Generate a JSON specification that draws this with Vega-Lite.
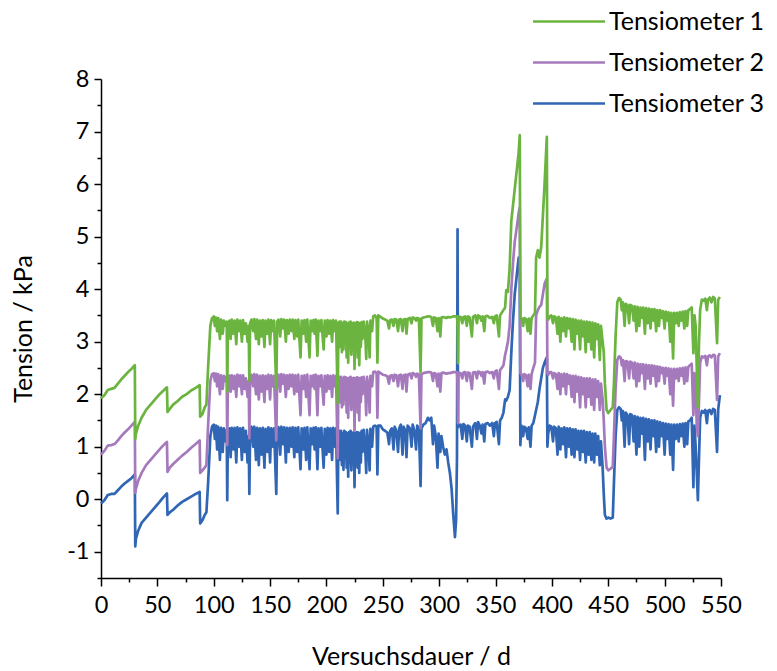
{
  "$schema": "https://vega.github.io/schema/vega-lite/v6.json",
  "width": 620,
  "height": 499,
  "autosize": {"type": "none"},
  "padding": {"left": 101, "top": 79, "right": 56, "bottom": 93},
  "background": "white",
  "config": {"view": {"stroke": null}, "font": "Lato"},
  "data": {"values": [
    {"d":0,"T1":1.92,"T2":0.85,"T3":-0.08},
    {"d":3,"T1":1.98,"T2":0.92,"T3":-0.02},
    {"d":6,"T1":2.08,"T2":1.02,"T3":0.08},
    {"d":9,"T1":2.1,"T2":1.03,"T3":0.1},
    {"d":12,"T1":2.12,"T2":1.05,"T3":0.1},
    {"d":15,"T1":2.2,"T2":1.12,"T3":0.17},
    {"d":18,"T1":2.28,"T2":1.2,"T3":0.24},
    {"d":21,"T1":2.35,"T2":1.27,"T3":0.3},
    {"d":24,"T1":2.42,"T2":1.33,"T3":0.35},
    {"d":27,"T1":2.48,"T2":1.4,"T3":0.4},
    {"d":30,"T1":2.55,"T2":1.47,"T3":0.47},
    {"d":30.4,"T1":1.15,"T2":0.12,"T3":-0.9},
    {"d":31,"T1":1.25,"T2":0.2,"T3":-0.75},
    {"d":33,"T1":1.4,"T2":0.35,"T3":-0.6},
    {"d":36,"T1":1.55,"T2":0.5,"T3":-0.45},
    {"d":40,"T1":1.7,"T2":0.65,"T3":-0.35},
    {"d":44,"T1":1.8,"T2":0.75,"T3":-0.25},
    {"d":48,"T1":1.9,"T2":0.85,"T3":-0.15},
    {"d":52,"T1":2.0,"T2":0.95,"T3":-0.05},
    {"d":55,"T1":2.06,"T2":1.02,"T3":0.03},
    {"d":58.5,"T1":2.13,"T2":1.09,"T3":0.11},
    {"d":59,"T1":1.66,"T2":0.52,"T3":-0.3},
    {"d":61,"T1":1.72,"T2":0.6,"T3":-0.25},
    {"d":64,"T1":1.8,"T2":0.67,"T3":-0.2},
    {"d":68,"T1":1.87,"T2":0.75,"T3":-0.12},
    {"d":72,"T1":1.95,"T2":0.83,"T3":-0.05},
    {"d":76,"T1":2.0,"T2":0.9,"T3":0.0},
    {"d":80,"T1":2.07,"T2":0.98,"T3":0.05},
    {"d":84,"T1":2.12,"T2":1.05,"T3":0.1},
    {"d":87.5,"T1":2.17,"T2":1.12,"T3":0.14},
    {"d":88,"T1":1.57,"T2":0.5,"T3":-0.46},
    {"d":90,"T1":1.62,"T2":0.55,"T3":-0.4},
    {"d":92,"T1":1.75,"T2":0.6,"T3":-0.3},
    {"d":93.5,"T1":1.8,"T2":0.65,"T3":-0.25},
    {"d":95,"T1":2.5,"T2":1.4,"T3":0.3},
    {"d":97,"T1":3.3,"T2":2.25,"T3":1.2},
    {"d":98.5,"T1":3.45,"T2":2.38,"T3":1.38},
    {"d":99,"T1":3.45,"T2":2.38,"T3":1.4},
    {"d":100,"T1":3.48,"T2":2.4,"T3":1.42},
    {"d":101,"T1":3.3,"T2":2.25,"T3":1.15},
    {"d":102,"T1":3.46,"T2":2.39,"T3":1.4},
    {"d":103,"T1":3.2,"T2":2.15,"T3":0.95},
    {"d":104,"T1":3.45,"T2":2.38,"T3":1.38},
    {"d":105.5,"T1":3.05,"T2":2.0,"T3":0.75},
    {"d":106.5,"T1":3.42,"T2":2.36,"T3":1.36},
    {"d":108,"T1":3.15,"T2":2.1,"T3":0.9},
    {"d":109,"T1":3.4,"T2":2.35,"T3":1.35},
    {"d":110.5,"T1":3.3,"T2":2.25,"T3":1.1},
    {"d":111.5,"T1":3.38,"T2":2.33,"T3":1.32},
    {"d":112,"T1":2.05,"T2":1.03,"T3":-0.02},
    {"d":112.6,"T1":3.35,"T2":2.3,"T3":1.3},
    {"d":114,"T1":3.4,"T2":2.35,"T3":1.35},
    {"d":115,"T1":3.05,"T2":2.05,"T3":0.8},
    {"d":116,"T1":3.42,"T2":2.36,"T3":1.36},
    {"d":117.5,"T1":3.15,"T2":2.1,"T3":0.95},
    {"d":118.5,"T1":3.4,"T2":2.35,"T3":1.36},
    {"d":120,"T1":2.95,"T2":1.95,"T3":0.7},
    {"d":121,"T1":3.42,"T2":2.37,"T3":1.37},
    {"d":122.5,"T1":3.2,"T2":2.15,"T3":1.0},
    {"d":123.5,"T1":3.4,"T2":2.36,"T3":1.35},
    {"d":125,"T1":3.0,"T2":2.0,"T3":0.75},
    {"d":126,"T1":3.41,"T2":2.36,"T3":1.36},
    {"d":127.5,"T1":3.15,"T2":2.1,"T3":0.9},
    {"d":128.5,"T1":3.35,"T2":2.3,"T3":1.3},
    {"d":130,"T1":3.0,"T2":1.95,"T3":0.7},
    {"d":131,"T1":3.3,"T2":2.25,"T3":1.2},
    {"d":131.6,"T1":2.25,"T2":1.16,"T3":0.1},
    {"d":132.3,"T1":3.35,"T2":2.3,"T3":1.3},
    {"d":133.5,"T1":3.42,"T2":2.37,"T3":1.38},
    {"d":135,"T1":3.2,"T2":2.15,"T3":1.0},
    {"d":136,"T1":3.43,"T2":2.38,"T3":1.38},
    {"d":137.5,"T1":3.05,"T2":2.0,"T3":0.75},
    {"d":138.5,"T1":3.42,"T2":2.37,"T3":1.36},
    {"d":140,"T1":2.95,"T2":1.9,"T3":0.65},
    {"d":141,"T1":3.4,"T2":2.35,"T3":1.35},
    {"d":142.5,"T1":3.1,"T2":2.05,"T3":0.85},
    {"d":143.5,"T1":3.41,"T2":2.36,"T3":1.36},
    {"d":145,"T1":2.9,"T2":1.85,"T3":0.6},
    {"d":146,"T1":3.4,"T2":2.35,"T3":1.34},
    {"d":147.5,"T1":3.15,"T2":2.1,"T3":0.9},
    {"d":148.5,"T1":3.42,"T2":2.37,"T3":1.37},
    {"d":150,"T1":2.95,"T2":1.9,"T3":0.7},
    {"d":151,"T1":3.41,"T2":2.36,"T3":1.35},
    {"d":152.5,"T1":3.2,"T2":2.15,"T3":1.0},
    {"d":153.5,"T1":3.4,"T2":2.35,"T3":1.35},
    {"d":155.5,"T1":2.1,"T2":1.12,"T3":0.1},
    {"d":156.3,"T1":3.38,"T2":2.33,"T3":1.32},
    {"d":157.5,"T1":3.42,"T2":2.37,"T3":1.37},
    {"d":159,"T1":3.1,"T2":2.05,"T3":0.85},
    {"d":160,"T1":3.43,"T2":2.38,"T3":1.38},
    {"d":161.5,"T1":3.25,"T2":2.2,"T3":1.05},
    {"d":162.5,"T1":3.42,"T2":2.37,"T3":1.37},
    {"d":164,"T1":3.0,"T2":1.95,"T3":0.7},
    {"d":165,"T1":3.41,"T2":2.36,"T3":1.36},
    {"d":166.5,"T1":3.15,"T2":2.1,"T3":0.9},
    {"d":167.5,"T1":3.42,"T2":2.37,"T3":1.36},
    {"d":169,"T1":3.2,"T2":2.15,"T3":1.0},
    {"d":170,"T1":3.42,"T2":2.37,"T3":1.37},
    {"d":171.5,"T1":3.05,"T2":2.0,"T3":0.8},
    {"d":172.5,"T1":3.41,"T2":2.36,"T3":1.36},
    {"d":174,"T1":3.1,"T2":2.05,"T3":0.9},
    {"d":175,"T1":3.42,"T2":2.37,"T3":1.37},
    {"d":177,"T1":2.7,"T2":1.6,"T3":0.57},
    {"d":178,"T1":3.4,"T2":2.35,"T3":1.35},
    {"d":179.5,"T1":3.15,"T2":2.1,"T3":0.95},
    {"d":180.5,"T1":3.41,"T2":2.36,"T3":1.36},
    {"d":182,"T1":3.0,"T2":1.95,"T3":0.75},
    {"d":183,"T1":3.42,"T2":2.37,"T3":1.37},
    {"d":185,"T1":2.7,"T2":1.6,"T3":0.57},
    {"d":186,"T1":3.4,"T2":2.35,"T3":1.35},
    {"d":187.5,"T1":3.2,"T2":2.15,"T3":1.05},
    {"d":188.5,"T1":3.41,"T2":2.36,"T3":1.36},
    {"d":189.5,"T1":3.15,"T2":2.1,"T3":0.95},
    {"d":190.5,"T1":3.42,"T2":2.37,"T3":1.37},
    {"d":192,"T1":2.73,"T2":1.6,"T3":0.57},
    {"d":193,"T1":3.4,"T2":2.35,"T3":1.35},
    {"d":194.5,"T1":3.2,"T2":2.15,"T3":1.0},
    {"d":195.5,"T1":3.41,"T2":2.36,"T3":1.36},
    {"d":197.5,"T1":2.85,"T2":1.8,"T3":0.6},
    {"d":198.5,"T1":3.4,"T2":2.35,"T3":1.34},
    {"d":200,"T1":3.1,"T2":2.05,"T3":0.85},
    {"d":201,"T1":3.41,"T2":2.36,"T3":1.36},
    {"d":202.5,"T1":3.15,"T2":2.1,"T3":0.9},
    {"d":203.5,"T1":3.4,"T2":2.35,"T3":1.35},
    {"d":205,"T1":3.0,"T2":1.95,"T3":0.75},
    {"d":206,"T1":3.41,"T2":2.36,"T3":1.36},
    {"d":207.5,"T1":3.2,"T2":2.15,"T3":1.0},
    {"d":208.5,"T1":3.4,"T2":2.35,"T3":1.35},
    {"d":210,"T1":1.83,"T2":0.78,"T3":-0.27},
    {"d":210.6,"T1":3.35,"T2":2.3,"T3":1.3},
    {"d":211.5,"T1":3.38,"T2":2.33,"T3":1.3},
    {"d":212.3,"T1":2.9,"T2":1.85,"T3":0.75},
    {"d":213,"T1":3.38,"T2":2.33,"T3":1.3},
    {"d":213.7,"T1":2.8,"T2":1.75,"T3":0.65},
    {"d":214.4,"T1":3.35,"T2":2.3,"T3":1.25},
    {"d":215.1,"T1":2.85,"T2":1.8,"T3":0.56},
    {"d":215.8,"T1":3.38,"T2":2.33,"T3":1.3},
    {"d":216.5,"T1":3.0,"T2":1.9,"T3":0.8},
    {"d":217.2,"T1":3.37,"T2":2.32,"T3":1.28},
    {"d":217.9,"T1":2.7,"T2":1.65,"T3":0.6},
    {"d":218.6,"T1":3.35,"T2":2.3,"T3":1.25},
    {"d":219.3,"T1":2.6,"T2":1.55,"T3":0.43},
    {"d":220,"T1":3.36,"T2":2.31,"T3":1.28},
    {"d":220.7,"T1":2.9,"T2":1.85,"T3":0.7},
    {"d":221.4,"T1":3.38,"T2":2.33,"T3":1.3},
    {"d":222.1,"T1":2.75,"T2":1.7,"T3":0.55},
    {"d":222.8,"T1":3.35,"T2":2.3,"T3":1.26},
    {"d":223.5,"T1":2.95,"T2":1.9,"T3":0.75},
    {"d":224.2,"T1":3.36,"T2":2.31,"T3":1.28},
    {"d":224.9,"T1":2.48,"T2":1.3,"T3":0.23},
    {"d":225.6,"T1":3.35,"T2":2.3,"T3":1.25},
    {"d":226.3,"T1":2.85,"T2":1.8,"T3":0.65},
    {"d":227,"T1":3.37,"T2":2.32,"T3":1.28},
    {"d":227.7,"T1":2.7,"T2":1.65,"T3":0.6},
    {"d":228.4,"T1":3.36,"T2":2.31,"T3":1.27},
    {"d":229.1,"T1":2.55,"T2":1.5,"T3":0.5},
    {"d":229.8,"T1":3.35,"T2":2.3,"T3":1.26},
    {"d":230.5,"T1":2.9,"T2":1.85,"T3":0.7},
    {"d":231.2,"T1":3.37,"T2":2.32,"T3":1.3},
    {"d":232,"T1":3.05,"T2":2.0,"T3":0.9},
    {"d":233,"T1":3.38,"T2":2.33,"T3":1.32},
    {"d":234.5,"T1":3.1,"T2":2.05,"T3":0.9},
    {"d":235.3,"T1":2.67,"T2":1.6,"T3":0.5},
    {"d":236,"T1":3.38,"T2":2.33,"T3":1.32},
    {"d":237.5,"T1":3.15,"T2":2.1,"T3":0.95},
    {"d":238.3,"T1":2.7,"T2":1.65,"T3":0.55},
    {"d":239,"T1":3.4,"T2":2.35,"T3":1.34},
    {"d":240.5,"T1":3.2,"T2":2.15,"T3":1.0},
    {"d":241.5,"T1":3.48,"T2":2.42,"T3":1.38},
    {"d":243,"T1":3.5,"T2":2.43,"T3":1.4},
    {"d":244.5,"T1":3.45,"T2":2.4,"T3":1.38},
    {"d":245.2,"T1":2.6,"T2":1.55,"T3":0.47},
    {"d":246,"T1":3.5,"T2":2.43,"T3":1.4},
    {"d":248,"T1":3.47,"T2":2.4,"T3":1.4},
    {"d":250,"T1":3.44,"T2":2.37,"T3":1.33},
    {"d":252,"T1":3.42,"T2":2.36,"T3":1.3},
    {"d":254,"T1":3.4,"T2":2.34,"T3":1.27},
    {"d":255.5,"T1":3.25,"T2":2.2,"T3":1.05},
    {"d":256.5,"T1":3.41,"T2":2.35,"T3":1.3},
    {"d":258,"T1":3.42,"T2":2.36,"T3":1.35},
    {"d":259.5,"T1":3.3,"T2":2.25,"T3":0.95},
    {"d":260.5,"T1":3.43,"T2":2.37,"T3":1.38},
    {"d":262,"T1":3.42,"T2":2.36,"T3":1.3},
    {"d":263.5,"T1":3.2,"T2":2.15,"T3":0.9},
    {"d":264.5,"T1":3.42,"T2":2.36,"T3":1.35},
    {"d":266,"T1":3.43,"T2":2.37,"T3":1.42},
    {"d":267.5,"T1":3.2,"T2":2.1,"T3":0.85},
    {"d":268.5,"T1":3.42,"T2":2.36,"T3":1.38},
    {"d":270,"T1":3.43,"T2":2.37,"T3":1.3},
    {"d":271,"T1":3.15,"T2":2.05,"T3":0.8},
    {"d":272,"T1":3.43,"T2":2.37,"T3":1.4},
    {"d":274,"T1":3.45,"T2":2.39,"T3":1.35},
    {"d":275.5,"T1":3.35,"T2":2.3,"T3":1.0},
    {"d":276.5,"T1":3.46,"T2":2.4,"T3":1.42},
    {"d":278,"T1":3.45,"T2":2.39,"T3":1.3},
    {"d":279.5,"T1":3.4,"T2":2.33,"T3":0.95},
    {"d":280.5,"T1":3.45,"T2":2.39,"T3":1.4},
    {"d":282,"T1":3.44,"T2":2.38,"T3":1.35},
    {"d":283.5,"T1":2.42,"T2":1.35,"T3":0.25},
    {"d":284.3,"T1":3.44,"T2":2.38,"T3":1.35},
    {"d":286,"T1":3.46,"T2":2.4,"T3":1.42},
    {"d":288,"T1":3.47,"T2":2.41,"T3":1.45},
    {"d":290,"T1":3.48,"T2":2.42,"T3":1.55},
    {"d":291.5,"T1":3.48,"T2":2.42,"T3":1.5},
    {"d":293,"T1":3.47,"T2":2.41,"T3":1.55},
    {"d":294.5,"T1":3.3,"T2":2.25,"T3":1.05},
    {"d":295.5,"T1":3.46,"T2":2.4,"T3":1.4},
    {"d":297,"T1":3.45,"T2":2.39,"T3":1.2},
    {"d":298.5,"T1":3.2,"T2":2.15,"T3":0.6},
    {"d":299.5,"T1":3.45,"T2":2.39,"T3":1.25},
    {"d":301,"T1":3.1,"T2":2.05,"T3":0.9},
    {"d":302,"T1":3.46,"T2":2.4,"T3":1.2},
    {"d":303.5,"T1":3.47,"T2":2.41,"T3":1.0},
    {"d":305,"T1":3.46,"T2":2.4,"T3":0.85},
    {"d":306.5,"T1":3.45,"T2":2.39,"T3":0.95},
    {"d":308,"T1":3.47,"T2":2.4,"T3":0.7},
    {"d":309.5,"T1":3.46,"T2":2.4,"T3":0.5},
    {"d":311,"T1":3.47,"T2":2.41,"T3":0.2},
    {"d":312.5,"T1":3.48,"T2":2.42,"T3":-0.3},
    {"d":314,"T1":3.48,"T2":2.42,"T3":-0.72},
    {"d":315,"T1":3.48,"T2":2.42,"T3":-0.4},
    {"d":315.8,"T1":3.48,"T2":2.42,"T3":0.8},
    {"d":316.3,"T1":3.3,"T2":2.2,"T3":5.14},
    {"d":316.7,"T1":2.59,"T2":1.45,"T3":1.37},
    {"d":317.2,"T1":3.47,"T2":2.4,"T3":1.4},
    {"d":319,"T1":3.47,"T2":2.4,"T3":1.42},
    {"d":320.5,"T1":3.35,"T2":2.3,"T3":1.15},
    {"d":321.5,"T1":3.47,"T2":2.41,"T3":1.43},
    {"d":323,"T1":3.48,"T2":2.42,"T3":1.4},
    {"d":324.5,"T1":3.3,"T2":2.25,"T3":1.1},
    {"d":325.5,"T1":3.48,"T2":2.41,"T3":1.4},
    {"d":327,"T1":3.46,"T2":2.4,"T3":1.38},
    {"d":329,"T1":3.1,"T2":2.1,"T3":1.0},
    {"d":330,"T1":3.47,"T2":2.41,"T3":1.38},
    {"d":332,"T1":3.5,"T2":2.42,"T3":1.45},
    {"d":333.5,"T1":3.35,"T2":2.3,"T3":1.15},
    {"d":334.5,"T1":3.5,"T2":2.43,"T3":1.47},
    {"d":336,"T1":3.48,"T2":2.42,"T3":1.4},
    {"d":337.5,"T1":3.4,"T2":2.35,"T3":1.25},
    {"d":338.5,"T1":3.48,"T2":2.42,"T3":1.42},
    {"d":340,"T1":3.2,"T2":2.2,"T3":1.1},
    {"d":341,"T1":3.48,"T2":2.42,"T3":1.43},
    {"d":343,"T1":3.49,"T2":2.43,"T3":1.45},
    {"d":345,"T1":3.45,"T2":2.4,"T3":1.4},
    {"d":347,"T1":3.47,"T2":2.42,"T3":1.45},
    {"d":348.5,"T1":3.35,"T2":2.3,"T3":1.2},
    {"d":349.5,"T1":3.48,"T2":2.43,"T3":1.45},
    {"d":351,"T1":3.5,"T2":2.45,"T3":1.47},
    {"d":353,"T1":3.1,"T2":2.1,"T3":1.05},
    {"d":354,"T1":3.5,"T2":2.46,"T3":1.5},
    {"d":355.5,"T1":3.55,"T2":2.5,"T3":1.55},
    {"d":357,"T1":3.6,"T2":2.55,"T3":1.65},
    {"d":358.5,"T1":3.65,"T2":2.75,"T3":1.9},
    {"d":359.5,"T1":3.98,"T2":2.84,"T3":1.88},
    {"d":361,"T1":3.95,"T2":3.0,"T3":1.95},
    {"d":362.5,"T1":4.4,"T2":3.3,"T3":2.08},
    {"d":364,"T1":5.3,"T2":4.0,"T3":2.8},
    {"d":365.5,"T1":5.6,"T2":4.5,"T3":3.4},
    {"d":367,"T1":5.9,"T2":4.9,"T3":3.9},
    {"d":369,"T1":6.3,"T2":5.2,"T3":4.3},
    {"d":370.5,"T1":6.6,"T2":5.45,"T3":4.6},
    {"d":371.5,"T1":6.93,"T2":5.56,"T3":4.3},
    {"d":372,"T1":3.45,"T2":2.4,"T3":1.03},
    {"d":373,"T1":3.45,"T2":2.38,"T3":1.4},
    {"d":374.5,"T1":3.3,"T2":2.25,"T3":1.2},
    {"d":375.5,"T1":3.45,"T2":2.38,"T3":1.38},
    {"d":377,"T1":3.43,"T2":2.36,"T3":1.35},
    {"d":378.5,"T1":3.2,"T2":2.15,"T3":1.15},
    {"d":379.5,"T1":3.44,"T2":2.37,"T3":1.37},
    {"d":381,"T1":3.15,"T2":2.1,"T3":1.0},
    {"d":382,"T1":3.45,"T2":2.38,"T3":1.4},
    {"d":383.5,"T1":3.5,"T2":2.5,"T3":1.45},
    {"d":385,"T1":3.55,"T2":2.6,"T3":1.6},
    {"d":386,"T1":4.6,"T2":3.5,"T3":1.7},
    {"d":387.5,"T1":4.74,"T2":3.6,"T3":1.85},
    {"d":389,"T1":4.6,"T2":3.66,"T3":2.1},
    {"d":390.5,"T1":4.8,"T2":3.7,"T3":2.3},
    {"d":392,"T1":5.4,"T2":3.9,"T3":2.5},
    {"d":393.5,"T1":6.0,"T2":4.1,"T3":2.6},
    {"d":395.5,"T1":6.9,"T2":4.2,"T3":2.7},
    {"d":396,"T1":3.45,"T2":2.4,"T3":1.0},
    {"d":396.7,"T1":3.42,"T2":2.37,"T3":1.25},
    {"d":398,"T1":3.48,"T2":2.42,"T3":1.4},
    {"d":399.5,"T1":3.5,"T2":2.42,"T3":1.38},
    {"d":401,"T1":3.35,"T2":2.3,"T3":1.1},
    {"d":402,"T1":3.48,"T2":2.4,"T3":1.38},
    {"d":403.5,"T1":3.46,"T2":2.38,"T3":1.35},
    {"d":405,"T1":3.15,"T2":2.1,"T3":0.85},
    {"d":406,"T1":3.47,"T2":2.4,"T3":1.38},
    {"d":407.5,"T1":3.0,"T2":2.0,"T3":0.95},
    {"d":408.5,"T1":3.45,"T2":2.38,"T3":1.35},
    {"d":410,"T1":3.2,"T2":2.15,"T3":1.05},
    {"d":411,"T1":3.46,"T2":2.39,"T3":1.37},
    {"d":412.5,"T1":3.1,"T2":2.0,"T3":0.8},
    {"d":413.5,"T1":3.45,"T2":2.38,"T3":1.35},
    {"d":415,"T1":3.25,"T2":2.2,"T3":1.0},
    {"d":416,"T1":3.44,"T2":2.36,"T3":1.35},
    {"d":417.5,"T1":3.0,"T2":1.95,"T3":0.85},
    {"d":418.5,"T1":3.43,"T2":2.35,"T3":1.33},
    {"d":420,"T1":2.85,"T2":1.85,"T3":0.8},
    {"d":421,"T1":3.42,"T2":2.35,"T3":1.33},
    {"d":422.5,"T1":3.15,"T2":2.05,"T3":0.95},
    {"d":423.5,"T1":3.4,"T2":2.33,"T3":1.3},
    {"d":425,"T1":2.85,"T2":1.75,"T3":0.75},
    {"d":426,"T1":3.4,"T2":2.32,"T3":1.3},
    {"d":427.5,"T1":3.1,"T2":2.0,"T3":0.9},
    {"d":428.5,"T1":3.38,"T2":2.3,"T3":1.3},
    {"d":430,"T1":2.8,"T2":1.75,"T3":0.7},
    {"d":431,"T1":3.38,"T2":2.3,"T3":1.28},
    {"d":432.5,"T1":3.0,"T2":1.95,"T3":0.85},
    {"d":433.5,"T1":3.37,"T2":2.3,"T3":1.28},
    {"d":435,"T1":2.85,"T2":1.8,"T3":0.75},
    {"d":436,"T1":3.36,"T2":2.28,"T3":1.25},
    {"d":437.5,"T1":2.7,"T2":1.7,"T3":0.7},
    {"d":438.5,"T1":3.35,"T2":2.28,"T3":1.25},
    {"d":440,"T1":3.05,"T2":1.95,"T3":0.85},
    {"d":441,"T1":3.33,"T2":2.25,"T3":1.2},
    {"d":442.5,"T1":2.65,"T2":1.7,"T3":0.65},
    {"d":443.5,"T1":3.3,"T2":2.2,"T3":1.1},
    {"d":445,"T1":3.0,"T2":1.9,"T3":0.6},
    {"d":446,"T1":2.8,"T2":1.5,"T3":0.1},
    {"d":447,"T1":2.2,"T2":1.0,"T3":-0.3},
    {"d":448.5,"T1":1.7,"T2":0.6,"T3":-0.37},
    {"d":450,"T1":1.64,"T2":0.55,"T3":-0.35},
    {"d":452,"T1":1.7,"T2":0.58,"T3":-0.37},
    {"d":454,"T1":1.75,"T2":0.62,"T3":-0.35},
    {"d":455,"T1":2.2,"T2":1.2,"T3":0.3},
    {"d":456.5,"T1":3.1,"T2":2.1,"T3":1.2},
    {"d":458,"T1":3.75,"T2":2.65,"T3":1.7},
    {"d":459.5,"T1":3.83,"T2":2.72,"T3":1.75},
    {"d":461,"T1":3.8,"T2":2.7,"T3":1.72},
    {"d":462,"T1":3.6,"T2":2.55,"T3":1.5},
    {"d":463,"T1":3.75,"T2":2.65,"T3":1.68},
    {"d":464.5,"T1":3.3,"T2":2.25,"T3":1.0},
    {"d":465.5,"T1":3.72,"T2":2.63,"T3":1.65},
    {"d":467,"T1":3.7,"T2":2.62,"T3":1.6},
    {"d":468.5,"T1":3.35,"T2":2.3,"T3":1.05},
    {"d":469.5,"T1":3.7,"T2":2.62,"T3":1.62},
    {"d":471,"T1":3.68,"T2":2.6,"T3":1.6},
    {"d":472.5,"T1":3.4,"T2":2.3,"T3":1.1},
    {"d":473.5,"T1":3.67,"T2":2.6,"T3":1.58},
    {"d":475,"T1":3.2,"T2":2.15,"T3":0.85},
    {"d":476,"T1":3.66,"T2":2.58,"T3":1.57},
    {"d":477.5,"T1":3.3,"T2":2.25,"T3":1.0},
    {"d":478.5,"T1":3.65,"T2":2.57,"T3":1.55},
    {"d":480,"T1":3.45,"T2":2.4,"T3":1.25},
    {"d":481,"T1":3.65,"T2":2.57,"T3":1.55},
    {"d":482.5,"T1":3.15,"T2":2.1,"T3":0.75},
    {"d":483.5,"T1":3.64,"T2":2.56,"T3":1.53},
    {"d":485,"T1":3.35,"T2":2.3,"T3":1.1},
    {"d":486,"T1":3.63,"T2":2.55,"T3":1.52},
    {"d":487.5,"T1":3.25,"T2":2.2,"T3":0.95},
    {"d":488.5,"T1":3.62,"T2":2.55,"T3":1.5},
    {"d":490,"T1":3.4,"T2":2.35,"T3":1.2},
    {"d":491,"T1":3.62,"T2":2.54,"T3":1.5},
    {"d":492.5,"T1":3.2,"T2":2.15,"T3":0.9},
    {"d":493.5,"T1":3.6,"T2":2.53,"T3":1.48},
    {"d":495,"T1":3.3,"T2":2.25,"T3":1.0},
    {"d":496,"T1":3.6,"T2":2.52,"T3":1.47},
    {"d":497.5,"T1":3.45,"T2":2.4,"T3":1.2},
    {"d":498.5,"T1":3.58,"T2":2.5,"T3":1.45},
    {"d":500,"T1":3.25,"T2":2.2,"T3":0.85},
    {"d":501,"T1":3.57,"T2":2.5,"T3":1.44},
    {"d":502.5,"T1":3.4,"T2":2.35,"T3":1.15},
    {"d":503.5,"T1":3.56,"T2":2.49,"T3":1.43},
    {"d":505,"T1":3.0,"T2":2.0,"T3":0.85},
    {"d":506,"T1":3.55,"T2":2.48,"T3":1.42},
    {"d":507.5,"T1":2.68,"T2":1.78,"T3":0.56},
    {"d":508.5,"T1":3.55,"T2":2.48,"T3":1.42},
    {"d":510,"T1":3.35,"T2":2.3,"T3":1.15},
    {"d":511,"T1":3.55,"T2":2.48,"T3":1.42},
    {"d":512.5,"T1":3.3,"T2":2.25,"T3":1.1},
    {"d":513.5,"T1":3.56,"T2":2.49,"T3":1.43},
    {"d":515,"T1":3.4,"T2":2.35,"T3":1.2},
    {"d":516,"T1":3.57,"T2":2.5,"T3":1.44},
    {"d":517.5,"T1":3.25,"T2":2.2,"T3":1.0},
    {"d":518.5,"T1":3.58,"T2":2.51,"T3":1.45},
    {"d":520,"T1":3.3,"T2":2.25,"T3":1.05},
    {"d":521,"T1":3.6,"T2":2.52,"T3":1.48},
    {"d":522.5,"T1":3.62,"T2":2.55,"T3":1.5},
    {"d":524,"T1":3.65,"T2":2.58,"T3":1.55},
    {"d":525.5,"T1":2.78,"T2":1.6,"T3":0.23},
    {"d":526.5,"T1":3.5,"T2":2.4,"T3":1.4},
    {"d":527.5,"T1":3.3,"T2":2.2,"T3":1.0},
    {"d":528.5,"T1":2.5,"T2":1.4,"T3":0.5},
    {"d":529.5,"T1":1.75,"T2":1.2,"T3":-0.02},
    {"d":530.5,"T1":3.0,"T2":1.9,"T3":0.8},
    {"d":531.5,"T1":3.6,"T2":2.6,"T3":1.55},
    {"d":533,"T1":3.8,"T2":2.72,"T3":1.68},
    {"d":534.5,"T1":3.78,"T2":2.7,"T3":1.65},
    {"d":536,"T1":3.82,"T2":2.73,"T3":1.7},
    {"d":537.5,"T1":3.6,"T2":2.55,"T3":1.45},
    {"d":538.5,"T1":3.8,"T2":2.72,"T3":1.68},
    {"d":540,"T1":3.84,"T2":2.74,"T3":1.7},
    {"d":541.5,"T1":3.75,"T2":2.7,"T3":1.62},
    {"d":543,"T1":3.85,"T2":2.75,"T3":1.72},
    {"d":544.5,"T1":3.82,"T2":2.74,"T3":1.7},
    {"d":546.5,"T1":2.97,"T2":1.89,"T3":0.9},
    {"d":547.5,"T1":3.8,"T2":2.72,"T3":1.7},
    {"d":549,"T1":3.85,"T2":2.78,"T3":1.98}
  ]},
  "transform": [{"fold": ["T1", "T2", "T3"], "as": ["key", "value"]}],
  "encoding": {
    "x": {
      "field": "d", "type": "quantitative",
      "scale": {"domain": [0, 550], "nice": false, "zero": false},
      "axis": {
        "title": "Versuchsdauer / d",
        "values": [0,25,50,75,100,125,150,175,200,225,250,275,300,325,350,375,400,425,450,475,500,525,550],
        "labelExpr": "datum.value % 50 == 0 ? datum.label : ''",
        "tickSize": {"condition": {"test": "datum.value % 50 == 0", "value": 8}, "value": 4},
        "grid": false, "labelFlush": false, "labelOverlap": false,
        "domainColor": "black", "domainWidth": 1.5, "tickColor": "black", "tickWidth": 1.5,
        "labelFontSize": 23.5, "labelColor": "black", "labelPadding": 7,
        "titleFontSize": 25, "titleFontWeight": "normal", "titleColor": "black", "titlePadding": 28
      }
    },
    "y": {
      "field": "value", "type": "quantitative",
      "scale": {"domain": [-1.5, 8], "nice": false, "zero": false},
      "axis": {
        "title": "Tension / kPa",
        "values": [-1.5,-1,-0.5,0,0.5,1,1.5,2,2.5,3,3.5,4,4.5,5,5.5,6,6.5,7,7.5,8],
        "labelExpr": "datum.value % 1 == 0 ? '' + datum.value : ''",
        "tickSize": {"condition": {"test": "datum.value % 1 == 0", "value": 7}, "value": 4},
        "grid": false, "labelFlush": false, "labelOverlap": false,
        "domainColor": "black", "domainWidth": 1.5, "tickColor": "black", "tickWidth": 1.5,
        "labelFontSize": 23.5, "labelColor": "black", "labelPadding": 5,
        "titleFontSize": 25, "titleFontWeight": "normal", "titleColor": "black", "titlePadding": 30
      }
    },
    "color": {
      "field": "key", "type": "nominal",
      "scale": {"domain": ["T1", "T2", "T3"], "range": ["#6BB43F", "#A57ABD", "#3166B5"]},
      "legend": {
        "orient": "none", "legendX": 455.5, "legendY": -70, "title": null, "padding": 0,
        "symbolType": "M-8,0H8", "symbolSize": 81, "symbolStrokeWidth": 2.5,
        "labelFontSize": 25, "labelColor": "black", "labelOffset": 27.5, "rowPadding": 15,
        "labelExpr": "'Tensiometer ' + substring(datum.label, 1)"
      }
    }
  },
  "layer": [
    {"transform": [{"filter": "datum.key == 'T3'"}], "mark": {"type": "line", "strokeWidth": 2.7, "strokeJoin": "round"}},
    {"transform": [{"filter": "datum.key == 'T2'"}], "mark": {"type": "line", "strokeWidth": 2.7, "strokeJoin": "round"}},
    {"transform": [{"filter": "datum.key == 'T1'"}], "mark": {"type": "line", "strokeWidth": 2.7, "strokeJoin": "round"}}
  ]
}
